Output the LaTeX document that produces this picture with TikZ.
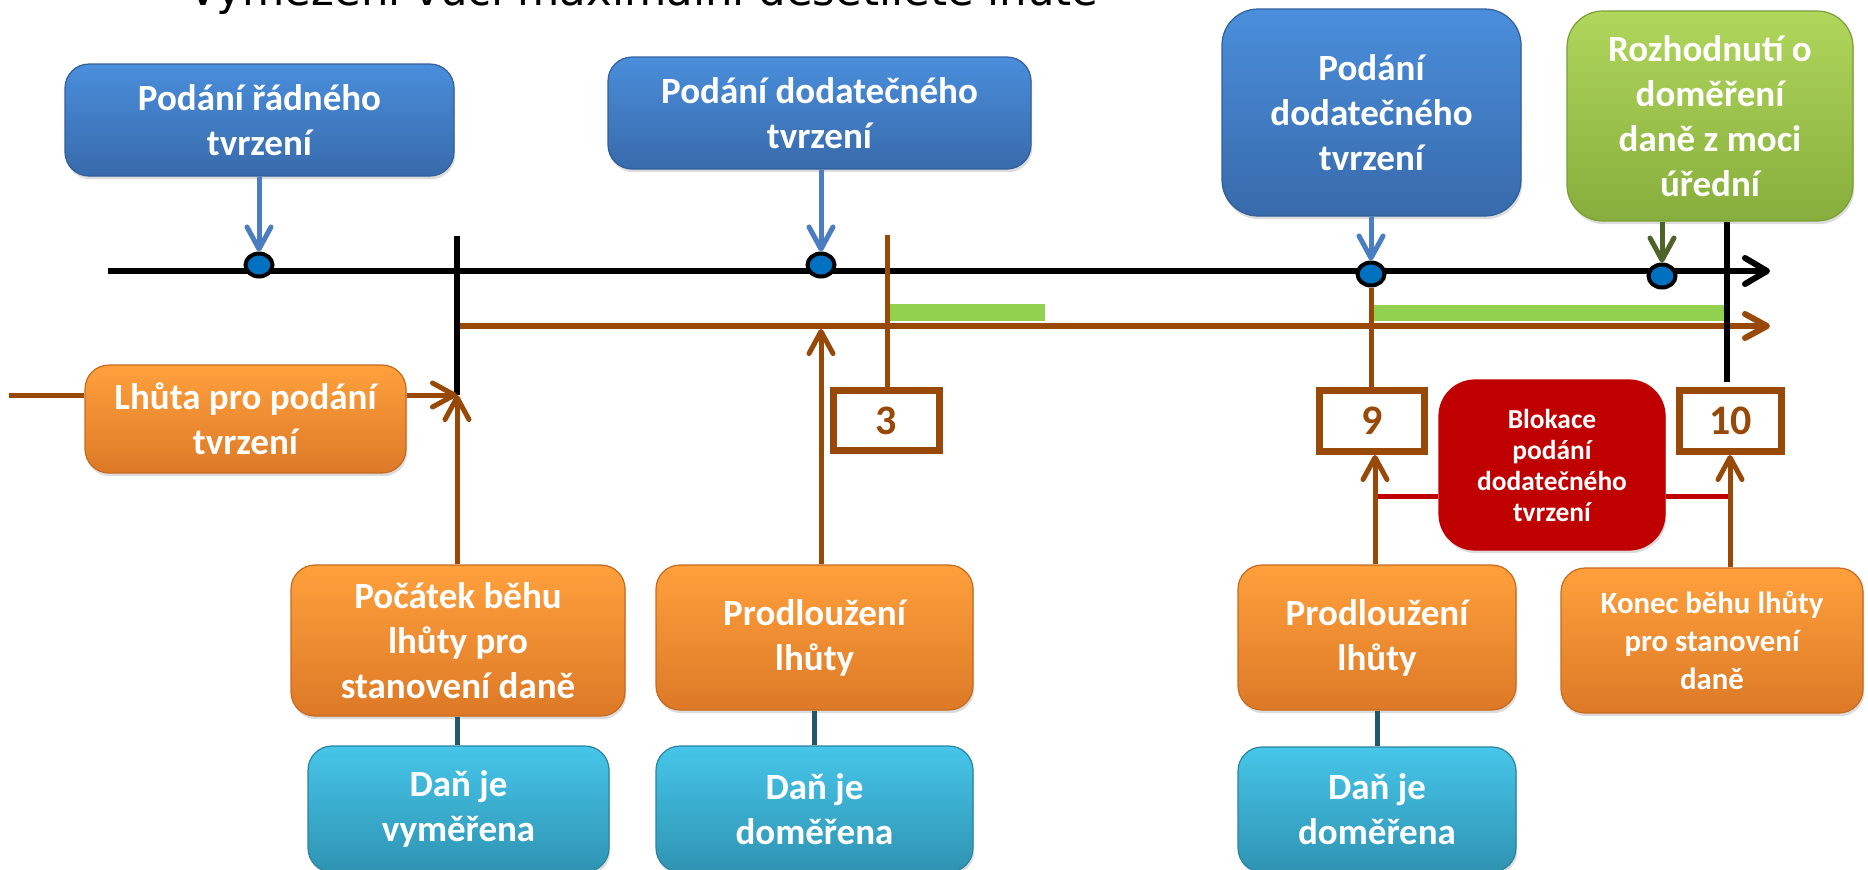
\documentclass[tikz,border=0pt]{standalone}
\usepackage{fontspec}
\setmainfont{Carlito}
\newfontfamily\titlefont{DejaVu Sans}
\usetikzlibrary{arrows.meta,shapes.geometric,shadows,calc}

% line and fill colours
\definecolor{brownln}{HTML}{984807}
\definecolor{barg}{HTML}{92D050}
\definecolor{dotblue}{HTML}{0070C0}
\definecolor{arrblue}{HTML}{4A7EC1}
\definecolor{arrgreen}{HTML}{4F6228}
\definecolor{tealln}{HTML}{215968}
\definecolor{blockred}{HTML}{C00000}
\definecolor{blueT}{HTML}{4A8EDB}\definecolor{blueB}{HTML}{386AAB}\definecolor{blueD}{HTML}{325F9A}
\definecolor{grnT}{HTML}{B0D65C}\definecolor{grnB}{HTML}{87AE3C}\definecolor{grnD}{HTML}{7A9E35}
\definecolor{orgT}{HTML}{FFA03C}\definecolor{orgB}{HTML}{DD7927}\definecolor{orgD}{HTML}{C86A1E}
\definecolor{cyT}{HTML}{46C6EA}\definecolor{cyB}{HTML}{2F93B2}\definecolor{cyD}{HTML}{2A84A0}

\begin{document}
\begin{tikzpicture}[x=0.5pt, y=-0.5pt,
  % a box given by its left, top, right and bottom edges
  span/.style n args={4}{minimum width={(#3-#1)*0.5pt}, minimum height={(#4-#2)*0.5pt},
    at={(0.5*#1+0.5*#3, 0.5*#2+0.5*#4)}},
  box/.style={rounded corners=12pt, inner sep=0pt, align=center, text=white,
    font=\bfseries\fontsize{18.5}{22.5}\selectfont, line width=0.6pt,
    drop shadow={shadow xshift=0.6pt, shadow yshift=-1.6pt, opacity=0.28}},
  bluebox/.style={box, top color=blueT, bottom color=blueB, draw=blueD},
  greenbox/.style={box, top color=grnT, bottom color=grnB, draw=grnD},
  orangebox/.style={box, top color=orgT, bottom color=orgB, draw=orgD},
  cyanbox/.style={box, top color=cyT, bottom color=cyB, draw=cyD},
  redbox/.style={box, rounded corners=18pt, fill=blockred, draw=blockred,
    font=\bfseries\fontsize{13.7}{15.5}\selectfont},
  numbox/.style={draw=brownln, line width=3.5pt, fill=white, text=brownln,
    inner sep=0pt, font=\bfseries\fontsize{21}{22}\selectfont},
  dot/.style={ellipse, draw=black, line width=2pt, fill=dotblue,
    minimum width=13.5pt, minimum height=11.5pt, inner sep=0pt},
  tip/.style={-{Straight Barb[length=11pt,width=12pt,round]}},
  bluearr/.style={draw=arrblue, line width=2.5pt, tip},
  greenarr/.style={draw=arrgreen, line width=2.5pt, tip},
  brownarr/.style={draw=brownln, line width=2.5pt, tip},
  brownline/.style={draw=brownln, line width=2.5pt},
  blackline/.style={draw=black, line width=3pt},
  redline/.style={draw=blockred, line width=2.5pt},
  tealline/.style={draw=tealln, line width=2.5pt}
]
\useasboundingbox (0,0) rectangle (1868,869);
\clip (0,0) rectangle (1868,869);

% heading, running off the top edge
\node (title) [anchor=base west, inner sep=0pt, font=\titlefont] at (188,5)
  {\resizebox{455pt}{!}{Vymezení vůči maximální desetileté lhůtě}};

% filing and decision boxes above the time axis
\node (b1) [bluebox, span={65}{64}{454}{176}] {Podání řádného\\tvrzení};
\node (b2) [bluebox, span={608}{57}{1031}{169}] {Podání dodatečného\\tvrzení};
\node (b3) [bluebox, rounded corners=18pt, span={1222}{9}{1521}{216}] {Podání\\dodatečného\\tvrzení};
\node (g)  [greenbox, rounded corners=18pt, span={1567}{11}{1853}{221}] {Rozhodnutí o\\doměření\\daně z moci\\úřední};

% time-limit boxes
\node (lhuta)   [orangebox, span={85}{365}{406}{473}] {Lhůta pro podání\\tvrzení};
\node (pocatek) [orangebox, span={291}{565}{625}{716}] {Počátek běhu\\lhůty pro\\stanovení daně};
\node (prod1)   [orangebox, span={656}{565}{973}{710}] {Prodloužení\\lhůty};
\node (prod2)   [orangebox, span={1238}{565}{1516}{710}] {Prodloužení\\lhůty};
\node (konec)   [orangebox, span={1561}{568}{1863}{713},
                 font=\bfseries\fontsize{15.4}{19}\selectfont] {Konec běhu lhůty\\pro stanovení\\daně};

% tax assessment boxes
\node (cy1) [cyanbox, span={308}{746}{609}{872}] {Daň je\\vyměřena};
\node (cy2) [cyanbox, span={656}{746}{973}{872}] {Daň je\\doměřena};
\node (cy3) [cyanbox, span={1238}{747}{1516}{872}] {Daň je\\doměřena};

% blocking period
\coordinate (rl9) at (1374,496);
\coordinate (rl10) at (1729,496);
\node (red) [redbox, span={1439}{380}{1665}{550}] {Blokace\\podání\\dodatečného\\tvrzení};
\draw[redline] (rl9) -- (rl9 -| red.west);
\draw[redline] (red.east |- rl10) -- (rl10);

% extension periods (green bars)
\fill[barg] (889,304) rectangle (1045,321);
\fill[barg] (1373,305) rectangle (1724,321);

% time axis and running period
\coordinate (ax0) at (108,271);
\coordinate (ax1) at (1770,271);
\draw[blackline, -{Straight Barb[length=11pt,width=13pt,round]}] (ax0) -- (ax1);
\coordinate (run0) at (457,326);
\coordinate (run1) at (1770,326);
\draw[brownarr, line width=3pt] (run0) -- (run1);

% year markers
\node (n3)  [numbox, span={833.5}{390.5}{939.5}{450.5}] {3};
\node (n9)  [numbox, span={1319.5}{390.5}{1424.5}{451.5}] {9};
\node (n10) [numbox, span={1679.5}{390.5}{1781.5}{451.5}] {10};

% start of the period
\coordinate (t1) at (457,236);
\coordinate (meet) at (457,395);
\coordinate (lstart) at (9,395);
\draw[blackline] (t1) -- (meet);
\draw[brownline] (lstart) -- (lstart -| lhuta.west);
\draw[brownarr] (meet -| lhuta.east) -- (meet);
\draw[brownarr] (meet |- pocatek.north) -- (meet);

% end of the period
\coordinate (t3) at (1727,382);
\draw[blackline] (t3 |- g.south) -- (t3);

% marker for year 3
\coordinate (t2) at (887,235);
\draw[brownline] (t2) -- (t2 |- n3.north);
\coordinate (u1) at (821,329);
\draw[brownarr] (u1 |- prod1.north) -- (u1);

% events on the axis
\node (d1) [dot] at (259,265) {};
\node (d2) [dot] at (821,265) {};
\node (d3) [dot] at (1371,274) {};
\node (d4) [dot] at (1662,276) {};
\draw[bluearr] (d1 |- b1.south) -- (d1.north);
\draw[bluearr] (d2 |- b2.south) -- (d2.north);
\draw[bluearr] (d3 |- b3.south) -- (d3.north);
\draw[greenarr] (d4 |- g.south) -- (d4.north);
\draw[brownline] (d3.south) -- (d3.south |- n9.north);

% extensions pointing at the year markers
\coordinate (u9) at (1375,455);
\coordinate (u10) at (1730,455);
\draw[brownarr] (u9 |- prod2.north) -- (u9);
\draw[brownarr] (u10 |- konec.north) -- (u10);

% links to the assessment boxes
\draw[tealline] (pocatek.south -| meet) -- (meet |- cy1.north);
\draw[tealline] (prod1.south) -- (prod1.south |- cy2.north);
\draw[tealline] (prod2.south) -- (prod2.south |- cy3.north);
\end{tikzpicture}
\end{document}
